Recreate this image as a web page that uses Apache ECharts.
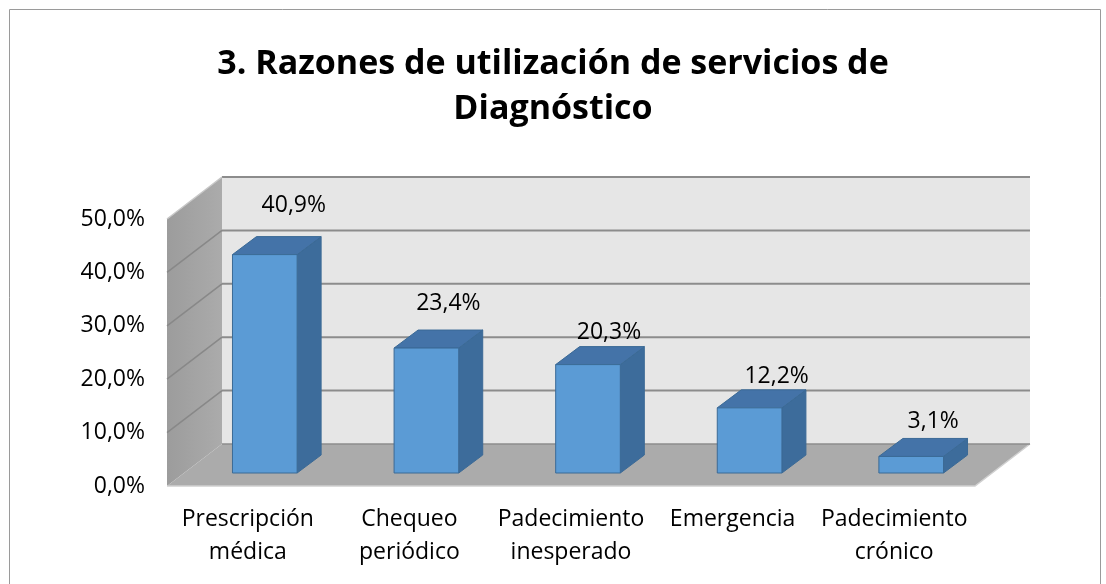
<!DOCTYPE html>
<html>
<head>
<meta charset="utf-8">
<script src="https://cdn.jsdelivr.net/npm/echarts@6/dist/echarts.min.js"></script>
<style>
  html, body { margin: 0; padding: 0; background: #fff; }
  #chart { width: 1106px; height: 584px; }
</style>
</head>
<body>
<div id="chart"></div>
<script>
const categories = ['Prescripción\nmédica', 'Chequeo\nperiódico', 'Padecimiento\ninesperado', 'Emergencia', 'Padecimiento\ncrónico']
const values = [40.9, 23.4, 20.3, 12.2, 3.1]
const yTicks = [0, 10, 20, 30, 40, 50]

// depth of the 3d box and where the bars sit inside it
const depth = { x: 55, y: 42 }
const barFront = { x: 17, y: 13 }
const barDepth = { x: 24, y: 18 }
const barRatio = 0.4
// label nudges (px) to follow the reference's label placement
const labelShiftX = [29, 22, 21, 27, 22]
const labelLift = [31, 27, 14, 13, 17]
const font = 'Open Sans'

function fmtPct (v) {
  return v.toFixed(1).replace('.', ',') + '%'
}

function renderFrame (params, api) {
  const cs = params.coordSys
  const x0 = cs.x
  const x1 = cs.x + cs.width
  const y0 = api.coord([0, 0])[1]
  const yTop = api.coord([0, yTicks[yTicks.length - 1]])[1]
  const children = []
  // back wall
  children.push({
    type: 'rect',
    shape: { x: x0 + depth.x, y: yTop - depth.y, width: cs.width, height: y0 - yTop },
    style: { fill: '#E6E6E6' }
  })
  // left wall
  children.push({
    type: 'polygon',
    shape: { points: [[x0, y0], [x0, yTop], [x0 + depth.x, yTop - depth.y], [x0 + depth.x, y0 - depth.y]] },
    style: {
      fill: new echarts.graphic.LinearGradient(0, 0, 1, 0, [
        { offset: 0, color: '#9C9C9C' },
        { offset: 1, color: '#ABABAB' }
      ])
    }
  })
  // floor
  children.push({
    type: 'polygon',
    shape: { points: [[x0, y0], [x1, y0], [x1 + depth.x, y0 - depth.y], [x0 + depth.x, y0 - depth.y]] },
    style: { fill: '#ABABAB' }
  })
  yTicks.forEach((v) => {
    const y = api.coord([0, v])[1]
    if (v > 0) {
      children.push({
        type: 'line',
        shape: { x1: x0 + depth.x, y1: y - depth.y, x2: x1 + depth.x, y2: y - depth.y },
        style: { stroke: '#8C8C8C', lineWidth: 2 }
      })
      children.push({
        type: 'line',
        shape: { x1: x0, y1: y, x2: x0 + depth.x, y2: y - depth.y },
        style: { stroke: v === 50 ? '#C8C8C8' : '#888888', lineWidth: 1.5 }
      })
    }
  })
  // edges
  children.push({
    type: 'polyline',
    shape: { points: [[x0, y0], [x1, y0], [x1 + depth.x, y0 - depth.y]] },
    style: { stroke: '#D0D0D0', lineWidth: 1.5, fill: null }
  })
  children.push({
    type: 'line',
    shape: { x1: x0 + depth.x, y1: y0 - depth.y, x2: x1 + depth.x, y2: y0 - depth.y },
    style: { stroke: '#8C8C8C', lineWidth: 1.5 }
  })
  return { type: 'group', children: children }
}

function renderBar (params, api) {
  const i = api.value(0)
  const v = api.value(1)
  const base = api.coord([i, 0])
  const top = api.coord([i, v])
  const bw = api.size([1, 0])[0] * barRatio
  const xl = base[0] - bw / 2 + barFront.x
  const xr = xl + bw
  const yb = base[1] - barFront.y
  const yt = top[1] - barFront.y
  const edge = '#3B6A96'
  return {
    type: 'group',
    children: [
      {
        type: 'polygon',
        shape: { points: [[xr, yb], [xr, yt], [xr + barDepth.x, yt - barDepth.y], [xr + barDepth.x, yb - barDepth.y]] },
        style: { fill: '#3D6C9B', stroke: edge, lineWidth: 1 }
      },
      {
        type: 'polygon',
        shape: { points: [[xl, yt], [xr, yt], [xr + barDepth.x, yt - barDepth.y], [xl + barDepth.x, yt - barDepth.y]] },
        style: { fill: '#4473A8', stroke: edge, lineWidth: 1 }
      },
      {
        type: 'rect',
        shape: { x: xl, y: yt, width: bw, height: yb - yt },
        style: { fill: '#5B9BD5', stroke: edge, lineWidth: 1 }
      },
      {
        type: 'text',
        style: {
          x: (xl + xr) / 2 + labelShiftX[i],
          y: yt - barDepth.y - labelLift[i],
          text: fmtPct(v),
          align: 'center',
          verticalAlign: 'middle',
          fontSize: 23,
          fontFamily: font,
          fill: '#000'
        }
      }
    ]
  }
}

const chart = echarts.init(document.getElementById('chart'))
chart.setOption({
  animation: false,
  title: {
    text: '3. Razones de utilización de servicios de\nDiagnóstico',
    left: 'center',
    top: 37,
    textStyle: { fontFamily: font, fontSize: 34, fontWeight: 'bold', lineHeight: 45, color: '#000' }
  },
  graphic: [{
    type: 'rect',
    left: 7,
    top: 7,
    shape: { width: 1091, height: 600 },
    style: { fill: null, stroke: '#9A9A9A', lineWidth: 1 }
  }],
  grid: { left: 167, right: 131, top: 219, bottom: 98 },
  xAxis: {
    type: 'category',
    data: categories,
    axisLine: { show: false },
    axisTick: { show: false },
    axisLabel: { fontFamily: font, fontSize: 23, lineHeight: 33, color: '#000', margin: 17, interval: 0 }
  },
  yAxis: {
    type: 'value',
    min: 0,
    max: 50,
    interval: 10,
    splitLine: { show: false },
    axisLabel: { fontFamily: font, fontSize: 23, color: '#000', margin: 22, formatter: fmtPct }
  },
  series: [
    {
      type: 'custom',
      data: [[0, 0]],
      renderItem: renderFrame,
      silent: true,
      z: 1
    },
    {
      type: 'custom',
      data: values.map((v, i) => [i, v]),
      renderItem: renderBar,
      z: 2
    }
  ]
})
</script>
</body>
</html>
